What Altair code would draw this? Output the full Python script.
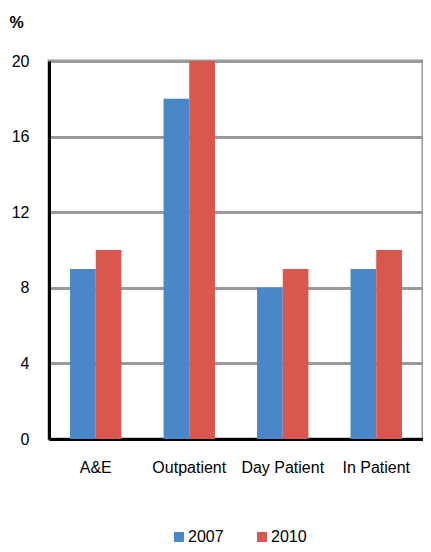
import altair as alt
import pandas as pd

categories = ["A&E", "Outpatient", "Day Patient", "In Patient"]
years = ["2007", "2010"]
values_2007 = [9, 18, 8, 9]
values_2010 = [10, 20, 9, 10]

rows = []
for c, a, b in zip(categories, values_2007, values_2010):
    rows.append({"cat": c, "year": "2007", "value": a})
    rows.append({"cat": c, "year": "2010", "value": b})
df = pd.DataFrame(rows)

chart = alt.Chart(df).mark_bar().encode(
    x=alt.X("cat:N", sort=categories, title=None,
            scale=alt.Scale(paddingInner=0.45, paddingOuter=0.225),
            axis=alt.Axis(labelAngle=0, labelFontSize=16, labelFont="Liberation Sans",
                          labelColor="black", labelPadding=20, ticks=False,
                          domainColor="black", domainWidth=3)),
    xOffset=alt.XOffset("year:N", sort=years, scale=alt.Scale(paddingInner=0, paddingOuter=0)),
    y=alt.Y("value:Q", scale=alt.Scale(domain=[0, 20]),
            axis=alt.Axis(values=[0, 4, 8, 12, 16, 20], title="%", titleAngle=0,
                          titleX=-33, titleY=-39, titleAlign="center", titleBaseline="middle",
                          titleFontSize=16, titleFont="Liberation Sans", titleFontWeight="bold",
                          labelFontSize=16, labelFont="Liberation Sans", labelColor="black",
                          labelPadding=20, ticks=False, domainColor="black", domainWidth=3,
                          gridColor="#999999", gridWidth=3, gridOpacity=1)),
    color=alt.Color("year:N", sort=years,
                    scale=alt.Scale(domain=years, range=["#4A87C8", "#D9574F"]),
                    legend=alt.Legend(title=None, orient="none", direction="horizontal",
                                      legendX=122, legendY=468, symbolType="square",
                                      symbolSize=100, symbolStrokeWidth=0, labelFontSize=16,
                                      labelFont="Liberation Sans", labelColor="black",
                                      labelOffset=1, columnPadding=30)),
).properties(
    width=374, height=378,
    autosize=alt.AutoSizeParams(type="none"),
    padding={"left": 41, "top": 53, "right": 0, "bottom": 105},
).configure_view(stroke="#999999", strokeWidth=3)

chart.save("out.html", embed_options={"renderer": "svg", "actions": False})
